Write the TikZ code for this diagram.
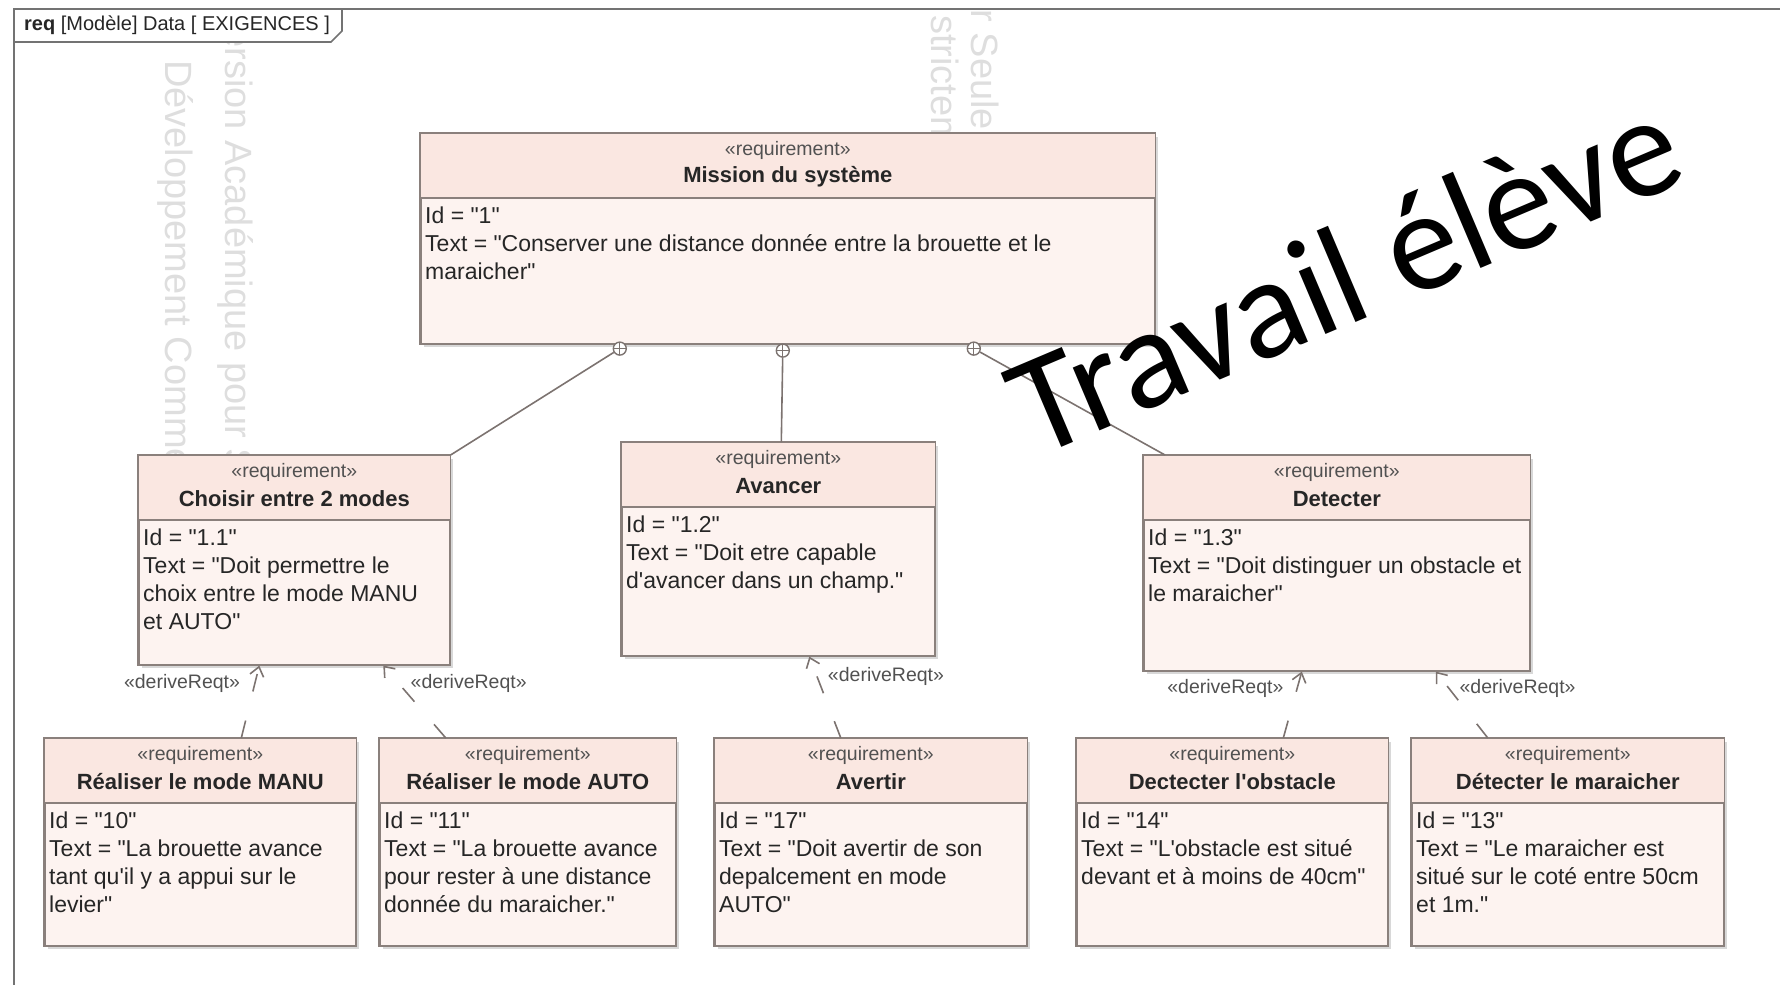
\documentclass[tikz,border=0pt]{standalone}
\usepackage{fontspec}
\setmainfont{Liberation Sans}[Ligatures=TeXOff]
\newfontfamily\handfont{Carlito}
\usepackage{tikz}
\usetikzlibrary{arrows.meta,positioning,calc,shadows}
\definecolor{reqhead}{RGB}{250,231,225}
\definecolor{reqbody}{RGB}{253,243,240}
\definecolor{reqedge}{RGB}{138,128,124}
\definecolor{reqink}{RGB}{38,38,38}
\definecolor{wmark}{RGB}{222,222,222}
% one requirement block: name, left, top, width, height, title, text
\newcommand{\reqnode}[7]{%
  \node[reqbox, minimum width=#4pt, minimum height=#5pt] (#1) at (#2,#3) {};
  \fill[reqhead] (#1.north west) rectangle ([yshift=-65pt]#1.north east);
  \draw[reqsep] ([yshift=-65pt]#1.north west) -- ([yshift=-65pt]#1.north east);
  \draw[reqsep, line width=1.6pt] (#1.north west) rectangle (#1.south east);
  \node[stereo] at ([yshift=-17pt]#1.north) {«requirement»};
  \node[reqtitle] at ([yshift=-44pt]#1.north) {#6};
  \node[reqtext] at ([shift={(5pt,-74pt)}]#1.north west) {#7};
}
\tikzset{
  reqbox/.style={draw=reqedge, line width=1.6pt, fill=reqbody, inner sep=0pt,
                 anchor=north west,
                 drop shadow={shadow xshift=3pt, shadow yshift=-3pt, fill=black!30}},
  reqsep/.style={draw=reqedge, line width=1.2pt},
  stereo/.style={font=\fontsize{19.5}{22}\selectfont, text=reqink!80, inner sep=0pt},
  reqtitle/.style={font=\fontsize{22}{26}\selectfont\bfseries, text=reqink, inner sep=0pt},
  reqtext/.style={font=\fontsize{23}{28}\selectfont, text=reqink, align=left,
                  inner sep=0pt, anchor=north west},
  contain/.style={draw=reqedge!90!black, line width=1.6pt},
  containdot/.style={circle, draw=reqedge!90!black, fill=white, line width=1.4pt,
                     minimum size=13pt, inner sep=0pt,
                     path picture={\draw[reqedge!90!black, line width=1pt]
                       (path picture bounding box.north) -- (path picture bounding box.south)
                       (path picture bounding box.west) -- (path picture bounding box.east);}},
  derive/.style={draw=reqedge!90!black, line width=1.6pt, dash pattern=on 18pt off 30pt,
                 -{Straight Barb[length=9pt, width=14pt]}},
  dlbl/.style={font=\fontsize{19.5}{22}\selectfont, text=reqink!80, inner sep=0pt},
  wm/.style={font=\fontsize{38}{40}\selectfont, text=wmark, rotate=-90,
             anchor=west, inner sep=0pt},
  frame/.style={draw=black!55, line width=1.6pt},
}
\begin{document}
\begin{tikzpicture}[x=1pt, y=-1pt]
  \useasboundingbox (0,0) rectangle (1780,985);
  % tool watermark
  \begin{scope}
    \clip (14,9) rectangle (1780,985);
    \node[wm] (wa1) at (236,3) {Version Académique pour Seule};
    \node[wm] (wa2) at (176,60) {Développement Commercial};
    \node[wm] (wb1) at (982,-413) {Version Académique pour Seule};
    \node[wm] (wb2) at (942,-475) {Développement Commercial strictement};
  \end{scope}
  \draw[frame] (14,985) -- (14,9) -- (1780,9);
  \draw[frame, fill=white] (14,9) -- (342,9) -- (342,31) -- (331,42) -- (14,42) -- cycle;
  \node[anchor=west, inner sep=0pt, font=\fontsize{20}{22}\selectfont, text=reqink] (tab)
    at (24,25) {\textbf{req} [Modèle] Data [ EXIGENCES ]};

  \reqnode{mission}{420}{133}{734}{210}{Mission du système}
    {Id = "1"\\Text = "Conserver une distance donnée entre la brouette et le\\maraicher"}
  \reqnode{choisir}{138}{455}{311}{209}{Choisir entre 2 modes}
    {Id = "1.1"\\Text = "Doit permettre le\\choix entre le mode MANU\\et AUTO"}
  \reqnode{avancer}{621}{442}{313}{213}{Avancer}
    {Id = "1.2"\\Text = "Doit etre capable\\d'avancer dans un champ."}
  \reqnode{detecter}{1143}{455}{386}{215}{Detecter}
    {Id = "1.3"\\Text = "Doit distinguer un obstacle et\\le maraicher"}
  \reqnode{modemanu}{44}{738}{311}{207}{Réaliser le mode MANU}
    {Id = "10"\\Text = "La brouette avance\\tant qu'il y a appui sur le\\levier"}
  \reqnode{modeauto}{379}{738}{296}{207}{Réaliser le mode AUTO}
    {Id = "11"\\Text = "La brouette avance\\pour rester à une distance\\donnée du maraicher."}
  \reqnode{avertir}{714}{738}{312}{207}{Avertir}
    {Id = "17"\\Text = "Doit avertir de son\\depalcement en mode\\AUTO"}
  \reqnode{obstacle}{1076}{738}{311}{207}{Dectecter l'obstacle}
    {Id = "14"\\Text = "L'obstacle est situé\\devant et à moins de 40cm"}
  \reqnode{maraicher}{1411}{738}{312}{207}{Détecter le maraicher}
    {Id = "13"\\Text = "Le maraicher est\\situé sur le coté entre 50cm\\et 1m."}

  % containment
  \node[containdot] (c1) at ([xshift=-168pt, yshift=-4pt]mission.south) {};
  \node[containdot] (c2) at ([xshift=-5pt, yshift=-6pt]mission.south) {};
  \node[containdot] (c3) at ([xshift=186pt, yshift=-4pt]mission.south) {};
  \draw[contain] (c1) -- (choisir.north east);
  \draw[contain] (c2) -- ([xshift=3pt]avancer.north);
  \draw[contain] (c3) -- ([xshift=22pt]detecter.north west);

  % deriveReqt
  \draw[derive] ([xshift=41pt]modemanu.north) --
    node[dlbl, pos=.75, left=14pt] {«deriveReqt»} ([xshift=-35pt]choisir.south);
  \draw[derive] ([xshift=-82pt]modeauto.north) --
    node[dlbl, pos=.75, right=11pt] {«deriveReqt»} ([xshift=89pt]choisir.south);
  \draw[derive] ([xshift=-30pt]avertir.north) --
    node[dlbl, pos=.75, right=10pt] {«deriveReqt»} ([xshift=31pt]avancer.south);
  \draw[derive] ([xshift=51pt]obstacle.north) --
    node[dlbl, pos=.75, left=13pt] {«deriveReqt»} ([xshift=-35pt]detecter.south);
  \draw[derive] ([xshift=-80pt]maraicher.north) --
    node[dlbl, pos=.75, right=10pt] {«deriveReqt»} ([xshift=99pt]detecter.south);

  \node[font=\handfont\fontsize{143}{150}\selectfont, rotate=23, anchor=base,
        inner sep=0pt] (travail) at (1363,319) {Travail élève};
\end{tikzpicture}
\end{document}
